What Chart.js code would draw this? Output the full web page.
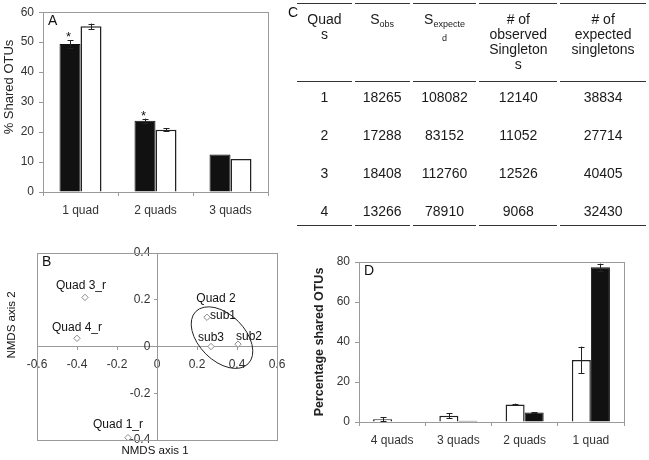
<!DOCTYPE html>
<html>
<head>
<meta charset="utf-8">
<script src="https://cdn.jsdelivr.net/npm/chart.js@4.4.1/dist/chart.umd.min.js"></script>
<style>
  body { margin: 0; background: #fff; font-family: "Liberation Sans", Arial, sans-serif; }
  #wrap { position: relative; width: 649px; height: 460px; overflow: hidden; }
  .panel { position: absolute; }
  .letter { position: absolute; font-size: 14px; color: #111; }
  #tableC { position: absolute; left: 294px; top: 3px; border-collapse: separate; border-spacing: 3px 0;
            font-size: 14px; color: #1a1a1a; text-align: center; }
  #tableC th { font-weight: normal; border-top: 1.5px solid #333; border-bottom: 1.5px solid #333;
               vertical-align: top; padding: 8px 0 0 0; height: 69px; line-height: 15px; }
  #tableC td { vertical-align: top; padding: 7px 0 0 0; height: 31px; line-height: 16px; }
  #tableC tr.last td { border-bottom: 1.5px solid #333; height: 22px; }
  .sub { font-size: 9px; position: relative; top: 3px; }
  .sub2 { font-size: 9px; }
</style>
</head>
<body>
<div id="wrap">
  <div class="panel" style="left:0;top:0;width:290px;height:230px"><canvas id="chartA"></canvas></div>
  <div class="letter" style="left:288px;top:4px">C</div>
  <table id="tableC"></table>
  <div class="panel" style="left:0;top:230px;width:300px;height:230px"><canvas id="chartB"></canvas></div>
  <div class="panel" style="left:300px;top:230px;width:349px;height:230px"><canvas id="chartD"></canvas></div>
</div>
<script>
// ---- A: % shared OTUs
const catsA = ["1 quad", "2 quads", "3 quads"];
const sharedBlack = [49.4, 23.8, 12.5];
const sharedBlackErr = [1.2, 0.7, 0];
const sharedWhite = [55.3, 20.8, 11.0];
const sharedWhiteErr = [0.9, 0.4, 0];
const starsA = ["*", "*", ""];

// ---- B: NMDS
const nmdsNames = ["Quad 3_r", "Quad 4_r", "Quad 1_r", "sub1", "sub3", "sub2"];
const nmdsX = [-0.36, -0.40, -0.145, 0.25, 0.27, 0.405];
const nmdsY = [0.21, 0.035, -0.39, 0.125, 0.0, 0.01];
const xTicksB = [-0.6, -0.4, -0.2, 0, 0.2, 0.4, 0.6];
const yTicksB = [-0.4, -0.2, 0, 0.2, 0.4];
const groupName = "Quad 2";

// ---- C: table
const headC = ["Quad<br>s", "S<span class=sub>obs</span>", "S<span class=sub>expecte</span><br><span class=sub2>d</span>",
               "# of<br>observed<br>Singleton<br>s", "# of<br>expected<br>singletons"];
const quadIds = [1, 2, 3, 4];
const sObs = [18265, 17288, 18408, 13266];
const sExpected = [108082, 83152, 112760, 78910];
const obsSingletons = [12140, 11052, 12526, 9068];
const expSingletons = [38834, 27714, 40405, 32430];

// ---- D: percentage shared OTUs
const catsD = ["4 quads", "3 quads", "2 quads", "1 quad"];
const pctWhite = [1.4, 3.1, 8.8, 31.0];
const pctWhiteErr = [1.0, 1.2, 0.4, 6.7];
const pctBlack = [0.2, 0.6, 4.7, 77.4];
const pctBlackErr = [0, 0, 0.2, 1.8];

// label nudges for panel B (px, relative to point)
const nmdsLabelShift = [[-4, -12], [0, -11], [-10, -13], [16, -2], [0, -9], [11, -7]];

Chart.defaults.font.family = '"Liberation Sans", Arial, sans-serif';
Chart.defaults.font.size = 12;
Chart.defaults.color = "#333";
Chart.defaults.animation = false;
Chart.defaults.plugins.legend.display = false;
Chart.defaults.plugins.tooltip.enabled = false;

const FONT = '"Liberation Sans", Arial, sans-serif';
const AXIS_GREY = "#9a9a9a";

// table
const tbl = document.getElementById("tableC");
const colW = [55, 55, 64, 78, 86];
let html = "<tr>" + headC.map((h, i) => `<th style="width:${colW[i]}px">${h}</th>`).join("") + "</tr>";
quadIds.forEach((q, i) => {
  const cls = i === quadIds.length - 1 ? ' class="last"' : "";
  html += `<tr${cls}><td>${q}</td><td>${sObs[i]}</td><td>${sExpected[i]}</td><td>${obsSingletons[i]}</td><td>${expSingletons[i]}</td></tr>`;
});
tbl.innerHTML = html;

// frame + panel letter (+ optional y title)
const frameBox = {
  id: "frameBox",
  beforeDatasetsDraw(chart, args, opts) {
    const { ctx, chartArea: { left, top, right, bottom } } = chart;
    ctx.save();
    ctx.strokeStyle = AXIS_GREY;
    ctx.lineWidth = 1;
    ctx.strokeRect(Math.round(left) + 0.5, Math.round(top) + 0.5, Math.round(right - left), Math.round(bottom - top));
    ctx.restore();
  },
  afterDraw(chart, args, opts) {
    const { ctx, chartArea } = chart;
    ctx.save();
    ctx.fillStyle = "#111";
    if (opts.letter) {
      ctx.font = "14px " + FONT;
      ctx.textBaseline = "top";
      ctx.fillText(opts.letter, chartArea.left + 5, chartArea.top + 2);
    }
    if (opts.yTitle) {
      ctx.fillStyle = "#222";
      ctx.font = "13px " + FONT;
      ctx.textAlign = "center";
      ctx.textBaseline = "middle";
      ctx.translate(9, 87);
      ctx.rotate(-Math.PI / 2);
      ctx.fillText(opts.yTitle, 0, 0);
    }
    ctx.restore();
  }
};

// error bars and significance stars
const errorBars = {
  id: "errorBars",
  afterDatasetsDraw(chart) {
    const ctx = chart.ctx;
    const yScale = chart.scales.y;
    chart.data.datasets.forEach((ds, i) => {
      const meta = chart.getDatasetMeta(i);
      meta.data.forEach((bar, j) => {
        const err = ds.errors ? ds.errors[j] : 0;
        const x = Math.round(bar.x) + 0.5;
        const top = yScale.getPixelForValue(ds.data[j] + err);
        ctx.save();
        if (err) {
          const bot = yScale.getPixelForValue(ds.data[j] - err);
          ctx.strokeStyle = "#222";
          ctx.lineWidth = 1;
          ctx.beginPath();
          ctx.moveTo(x, top); ctx.lineTo(x, bot);
          ctx.moveTo(x - 3, Math.round(top) + 0.5); ctx.lineTo(x + 3, Math.round(top) + 0.5);
          ctx.moveTo(x - 3, Math.round(bot) + 0.5); ctx.lineTo(x + 3, Math.round(bot) + 0.5);
          ctx.stroke();
        }
        if (ds.stars && ds.stars[j]) {
          ctx.fillStyle = "#111";
          ctx.font = "13px " + FONT;
          ctx.textAlign = "center";
          ctx.textBaseline = "alphabetic";
          ctx.fillText(ds.stars[j], x - 2, top + 1);
        }
        ctx.restore();
      });
    });
  }
};

function barScales(yMax, yStep, title, yWidth) {
  const y = {
    min: 0, max: yMax,
    grid: { drawOnChartArea: false, tickLength: 4, color: AXIS_GREY },
    border: { color: AXIS_GREY },
    ticks: { stepSize: yStep, padding: 5, color: "#333", font: { size: 12 } },
    afterFit: (s) => { s.width = yWidth; }
  };
  if (title) {
    y.title = { display: true, text: title, color: "#222", font: { size: 12.5, weight: "bold" }, padding: { top: 12, bottom: 0 } };
  }
  return {
    x: {
      grid: { display: true, drawOnChartArea: false, offset: true, tickLength: 4, color: AXIS_GREY },
      border: { color: AXIS_GREY },
      ticks: { padding: 7, color: "#333", font: { size: 12 } },
      afterFit: (s) => { s.height = 38; }
    },
    y
  };
}

// ---- chart A
new Chart(document.getElementById("chartA"), {
  type: "bar",
  plugins: [frameBox, errorBars],
  data: {
    labels: catsA,
    datasets: [
      { data: sharedBlack, errors: sharedBlackErr, stars: starsA, backgroundColor: "#111", borderColor: "#111", borderWidth: 1,
        categoryPercentage: 0.56, barPercentage: 1 },
      { data: sharedWhite, errors: sharedWhiteErr, backgroundColor: "#fff", borderColor: "#222", borderWidth: 1.5,
        categoryPercentage: 0.56, barPercentage: 1 }
    ]
  },
  options: {
    responsive: true, maintainAspectRatio: false,
    layout: { padding: { top: 7, right: 22, left: 0, bottom: 0 } },
    plugins: { frameBox: { letter: "A", yTitle: "% Shared OTUs" } },
    scales: barScales(60, 10, null, 43)
  }
});

// ---- chart D
new Chart(document.getElementById("chartD"), {
  type: "bar",
  plugins: [frameBox, errorBars],
  data: {
    labels: catsD,
    datasets: [
      { data: pctWhite, errors: pctWhiteErr, backgroundColor: "#fff", borderColor: "#222", borderWidth: 1.5,
        categoryPercentage: 0.575, barPercentage: 1 },
      { data: pctBlack, errors: pctBlackErr, backgroundColor: "#111", borderColor: "#111", borderWidth: 1,
        categoryPercentage: 0.575, barPercentage: 1 }
    ]
  },
  options: {
    responsive: true, maintainAspectRatio: false,
    layout: { padding: { top: 32, right: 25, left: 0, bottom: 0 } },
    plugins: { frameBox: { letter: "D" } },
    scales: barScales(80, 20, "Percentage shared OTUs", 59)
  }
});

// ---- chart B (NMDS)
const nmdsExtras = {
  id: "nmdsExtras",
  afterDatasetsDraw(chart) {
    const { ctx, scales: { x, y } } = chart;
    const meta = chart.getDatasetMeta(0);
    ctx.save();
    ctx.fillStyle = "#111";
    ctx.font = "12px " + FONT;
    ctx.textAlign = "center";
    ctx.textBaseline = "middle";
    meta.data.forEach((pt, i) => {
      const s = nmdsLabelShift[i];
      ctx.fillText(nmdsNames[i], pt.x + s[0], pt.y + s[1]);
    });
    // group ellipse around the Quad 2 subsamples
    const cx = x.getPixelForValue(0.325), cy = y.getPixelForValue(0.038);
    const pxPerUnit = x.getPixelForValue(1) - x.getPixelForValue(0);
    ctx.strokeStyle = "#222";
    ctx.lineWidth = 1;
    ctx.beginPath();
    ctx.ellipse(cx, cy, 0.185 * pxPerUnit, 0.115 * pxPerUnit, Math.PI / 4, 0, Math.PI * 2);
    ctx.stroke();
    ctx.fillText(groupName, cx - 6, cy - 39);
    // axis titles
    ctx.font = "11.5px " + FONT;
    ctx.fillText("NMDS axis 1", (chart.chartArea.left + chart.chartArea.right) / 2 - 2, 221);
    ctx.translate(12, 95);
    ctx.rotate(-Math.PI / 2);
    ctx.fillText("NMDS axis 2", 0, 0);
    ctx.restore();
  }
};

const fmtB = (v) => (Math.abs(v) < 1e-9 ? "0" : v.toFixed(1));

new Chart(document.getElementById("chartB"), {
  type: "scatter",
  plugins: [frameBox, nmdsExtras],
  data: {
    datasets: [{
      data: nmdsX.map((v, i) => ({ x: v, y: nmdsY[i] })),
      pointStyle: "rectRot", pointRadius: 3.2, borderColor: "#8a8a8a", backgroundColor: "#fff", borderWidth: 1
    }]
  },
  options: {
    responsive: true, maintainAspectRatio: false,
    layout: { padding: { top: 23, right: 23, left: 37, bottom: 20 } },
    plugins: { frameBox: { letter: "B" } },
    scales: {
      x: {
        type: "linear", min: xTicksB[0], max: xTicksB[xTicksB.length - 1], position: { y: 0 },
        afterBuildTicks: (s) => { s.ticks = xTicksB.map((v) => ({ value: v })); },
        ticks: { callback: fmtB, padding: 8, color: "#333", font: { size: 12 }, autoSkip: false, maxRotation: 0 },
        grid: { drawOnChartArea: false, tickLength: 3, color: AXIS_GREY },
        border: { color: AXIS_GREY },
        afterFit: (s) => { s.height = 0; }
      },
      y: {
        type: "linear", min: yTicksB[0], max: yTicksB[yTicksB.length - 1], position: { x: 0 },
        afterBuildTicks: (s) => { s.ticks = yTicksB.map((v) => ({ value: v })); },
        // labels sit right on the crossing axis, so pad them with two spaces
        ticks: { callback: (v) => fmtB(v) + "  ", color: "#333", font: { size: 12 }, autoSkip: false },
        grid: { drawOnChartArea: false, tickLength: 3, color: AXIS_GREY },
        border: { color: AXIS_GREY },
        afterFit: (s) => { s.width = 0; }
      }
    }
  }
});
</script>
</body>
</html>
